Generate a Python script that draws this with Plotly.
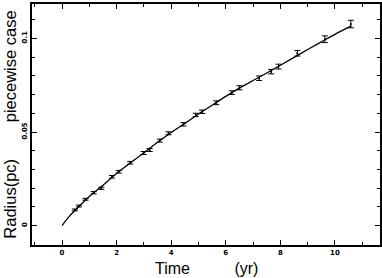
import plotly.graph_objects as go

# measured radii with error bars
t_obs = [0.47, 0.62, 0.86, 1.16, 1.44, 1.83, 2.08, 2.5, 2.99, 3.21, 3.58, 3.9,
         4.45, 4.9, 5.13, 5.65, 6.22, 6.5, 7.22, 7.66, 7.93, 8.62, 9.63, 10.58]
r_obs = [0.0084, 0.0105, 0.0141, 0.0176, 0.0200, 0.0261, 0.0288, 0.0336, 0.0388,
         0.0404, 0.0454, 0.0493, 0.0541, 0.0591, 0.0608, 0.0656, 0.0710, 0.0736,
         0.0787, 0.0822, 0.0849, 0.0920, 0.0995, 0.1076]
r_err = [0.0005, 0.0005, 0.0005, 0.0006, 0.0006, 0.0007, 0.0007, 0.0007, 0.0008,
         0.0008, 0.0008, 0.0008, 0.0009, 0.0009, 0.0009, 0.0010, 0.0010, 0.0011,
         0.0012, 0.0012, 0.0013, 0.0015, 0.0018, 0.0020]

# model curve (piecewise case)
t_fit = [0, 0.25, 0.5, 1, 1.5, 2, 2.5, 3, 3.5, 4, 4.5, 5, 5.5, 6, 6.5, 7, 7.5,
         8, 8.5, 9, 9.5, 10, 10.6]
r_fit = [0, 0.0047, 0.0085, 0.0156, 0.0216, 0.0279, 0.0334, 0.0389, 0.0445,
         0.0497, 0.0546, 0.0596, 0.0643, 0.0690, 0.0734, 0.0775, 0.0815,
         0.0856, 0.0898, 0.0940, 0.0981, 0.1021, 0.1066]

fig = go.Figure()
fig.add_trace(go.Scatter(x=t_fit, y=r_fit, mode="lines", line_shape="spline",
                         line=dict(color="black", width=1.3), showlegend=False))
fig.add_trace(go.Scatter(x=t_obs, y=r_obs, mode="markers",
                         marker=dict(color="black", size=2),
                         error_y=dict(type="data", array=r_err, color="black",
                                      thickness=1, width=3),
                         showlegend=False))

tickfont = dict(family="DejaVu Sans", size=7, color="black", weight="bold")
titlefont = dict(family="Liberation Sans, Arial", size=16.5, color="black")
fig.update_layout(
    width=382, height=278,
    margin=dict(l=32, r=2, t=4, b=33, autoexpand=False),
    plot_bgcolor="white", paper_bgcolor="white",
    xaxis=dict(range=[-1.1, 11.65], dtick=2, tick0=0, ticks="inside", ticklen=5,
               tickwidth=1, tickcolor="black", showgrid=False, zeroline=False,
               showline=True, linecolor="black", linewidth=2, mirror="allticks",
               minor=dict(dtick=1, ticks="inside", ticklen=3, tickcolor="black"),
               tickfont=tickfont, automargin=False),
    yaxis=dict(range=[-0.0103, 0.1183], dtick=0.05, tick0=0, ticks="inside", ticklen=5,
               tickwidth=1, tickcolor="black", showgrid=False, zeroline=False,
               showline=True, linecolor="black", linewidth=2, mirror="allticks",
               minor=dict(dtick=0.01, ticks="inside", ticklen=3, tickcolor="black"),
               tickangle=-90, tickfont=tickfont, automargin=False),
    annotations=[
        dict(text="Time" + "\u00a0" * 10 + "(yr)", xref="paper", yref="paper",
             x=0.5, y=-0.055, xanchor="center", yanchor="top", showarrow=False,
             font=dict(family="Liberation Sans, Arial", size=16, color="black")),
        dict(text="Radius(pc)" + "\u00a0" * 8 + "piecewise case", xref="paper",
             yref="paper", x=-0.064, y=0.498, xanchor="center", yanchor="middle",
             textangle=-90, showarrow=False, font=titlefont),
    ],
)

fig.write_html("out.html", config={"displayModeBar": False},
               post_script="document.body.style.margin='0';")
